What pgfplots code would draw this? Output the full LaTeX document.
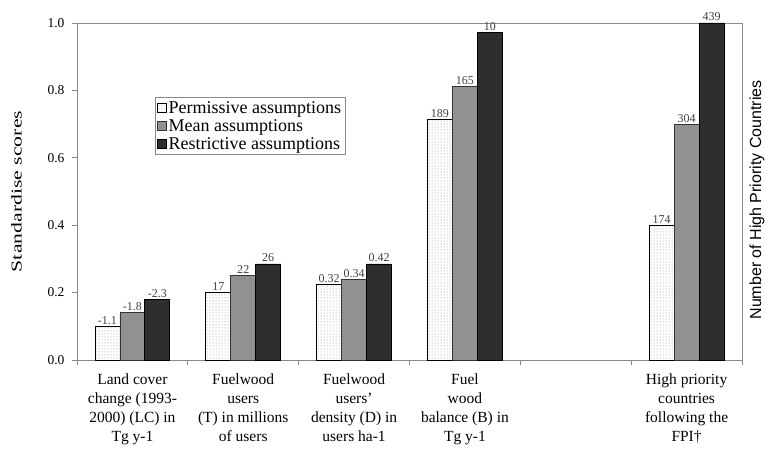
\documentclass[border=0pt]{standalone}
\usepackage{pgfplots}
\pgfplotsset{compat=1.18}
\usepackage{pgfplotstable}
\usepackage{graphicx}
\usepackage{fontspec}
\setmainfont{Liberation Serif}
\newfontfamily\arialfont{Liberation Sans}
\usetikzlibrary{patterns}
\definecolor{meangray}{HTML}{919191}
\definecolor{restdark}{HTML}{2E2E2E}
\definecolor{axisgray}{HTML}{8A8A8A}

\pgfplotstableread{
x y lbl
0 0.100 -1.1
1 0.200 17
2 0.225 0.32
3 0.713 189
5 0.400 174
}\perm
\pgfplotstableread{
x y lbl
0 0.140 -1.8
1 0.250 22
2 0.240 0.34
3 0.812 165
5 0.700 304
}\mean
\pgfplotstableread{
x y lbl
0 0.180 -2.3
1 0.285 26
2 0.285 0.42
3 0.972 10
5 1.000 439
}\rest

\begin{document}
\begin{tikzpicture}
\begin{axis}[
  scale only axis, width=665pt, height=337pt,
  ybar=0pt, bar width=0.225,
  xmin=-0.5, xmax=5.5, ymin=0, ymax=1,
  clip=false,
  axis line style={draw=axisgray, line width=0.8pt},
  tick align=outside, xtick pos=bottom, ytick pos=left,
  xtick={0,...,5},
  xticklabels={{Land cover\\change (1993-\\2000) (LC) in\\Tg y-1},
               {Fuelwood\\users\\(T) in millions\\of users},
               {Fuelwood\\users'\\density (D) in\\users ha-1},
               {Fuel\\wood\\balance (B) in\\Tg y-1},
               {},
               {High priority\\countries\\following the\\FPI†}},
  major x tick style={draw=none},
  minor xtick={-0.5,0.5,...,5.5},
  minor x tick style={draw=axisgray, line width=0.8pt},
  minor tick length=5pt, major tick length=5pt,
  ytick={0,0.2,...,1.0},
  y tick style={draw=axisgray, line width=0.8pt},
  yticklabel style={/pgf/number format/fixed, /pgf/number format/fixed zerofill, /pgf/number format/precision=1, font=\fontsize{13.5}{15}\selectfont, xshift=-4pt},
  /pgf/number format/assume math mode=true,
  xticklabel style={align=center, font=\fontsize{15.5}{19}\selectfont, yshift=-5pt},
  ylabel={\scalebox{1.45}[1]{Standardise scores}},
  ylabel style={font=\fontsize{15}{17}\selectfont, yshift=19pt},
  nodes near coords,
  point meta=explicit symbolic,
  nodes near coords style={font=\fontsize{12}{13}\selectfont, text=black!75, inner sep=1.5pt},
  legend style={at={(0.117,0.78)}, anchor=north west, draw=axisgray, line width=0.6pt,
     font=\fontsize{18}{18.5}\selectfont, row sep=0.5pt, inner sep=2pt},
  legend cell align=left,
  legend image code/.code={\draw[#1, line width=0.6pt] (1pt,-4pt) rectangle (10pt,5pt);},
]
\addplot[draw=black, line width=0.8pt, fill=white, postaction={pattern=dots, pattern color=gray!90}] table[x=x, y=y, meta=lbl] {\perm};
\addplot[draw=black!80, line width=0.8pt, fill=meangray] table[x=x, y=y, meta=lbl] {\mean};
\addplot[draw=black, line width=0.8pt, fill=restdark] table[x=x, y=y, meta=lbl] {\rest};
\legend{Permissive assumptions, Mean assumptions, Restrictive assumptions}
\node[xshift=15pt, rotate=90, anchor=center, font=\arialfont\fontsize{16}{18}\selectfont]
  at (rel axis cs:1,0.475) {Number of High Priority Countries};
\coordinate (ll) at (rel axis cs:0,0);
\coordinate (ur) at (rel axis cs:1,1);
\end{axis}
\pgfresetboundingbox
\path[use as bounding box] ([xshift=-77pt,yshift=-97pt]ll) rectangle ([xshift=23pt,yshift=23pt]ur);
\end{tikzpicture}
\end{document}
